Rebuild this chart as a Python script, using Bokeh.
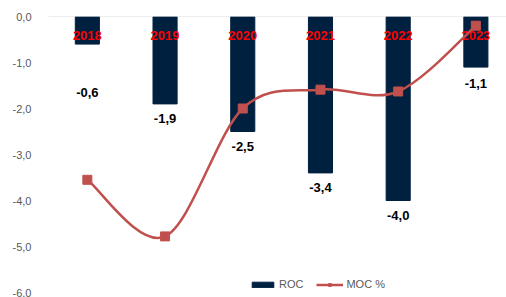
import numpy as np
from bokeh.plotting import figure
from bokeh.models import (ColumnDataSource, Range1d, FixedTicker, CustomJSTickFormatter,
                          Span, Legend, LegendItem)
from bokeh.embed import file_html
from bokeh.resources import INLINE
from bokeh.core.properties import value

# ---- data ----
years = ["2018", "2019", "2020", "2021", "2022", "2023"]
roc = [-0.6, -1.9, -2.5, -3.4, -4.0, -1.1]
moc = [-3.55, -4.78, -2.0, -1.59, -1.63, -0.2]
y_ticks = [0, -1, -2, -3, -4, -5, -6]

# ---- styling ----
BAR = "#002040"
LINE = "#C0504D"
FONT = "Liberation Sans"
label_offsets = [48, 15, 15, 15, 15, 16]  # px below bar end

xpos = list(range(len(years)))
roc_labels = [f"{v:.1f}".replace(".", ",") for v in roc]

p = figure(width=506, height=297, x_range=Range1d(-0.5, 5.394), y_range=Range1d(-6, 0),
           output_backend="svg", toolbar_location=None, x_axis_location=None,
           min_border_left=48, min_border_right=0, min_border_top=16, min_border_bottom=5)
p.outline_line_color = None
p.xgrid.visible = False
p.ygrid.visible = False
p.background_fill_color = "white"
p.border_fill_color = "white"

ax = p.yaxis[0]
ax.ticker = FixedTicker(ticks=y_ticks)
ax.formatter = CustomJSTickFormatter(code="return tick.toFixed(1).replace('.', ',');")
ax.axis_line_color = None
ax.major_tick_line_color = None
ax.minor_tick_line_color = None
ax.major_label_text_color = "#595959"
ax.major_label_text_font = FONT
ax.major_label_text_font_size = "11px"
ax.major_label_standoff = 11

p.add_layout(Span(location=0, dimension="width", line_color="#d9d9d9", line_width=1))

bar_src = ColumnDataSource(dict(x=xpos, top=roc, lab=roc_labels, off=label_offsets))
bars = p.vbar(x="x", top="top", bottom=0, width=0.31, source=bar_src,
              fill_color=BAR, line_color=BAR)

p.text(x=xpos, y=0, text=years, y_offset=19, text_align="center", text_baseline="middle",
       text_color="#FF0000", text_font=value(FONT), text_font_style="bold",
       text_font_size="13px")

p.text(x="x", y="top", text="lab", y_offset="off", source=bar_src, text_align="center",
       text_baseline="middle", text_color="#000000", text_font=value(FONT),
       text_font_style="bold", text_font_size="13px")

# smoothed line (Catmull-Rom -> cubic bezier control points)
xs = np.array(xpos, float)
ys = np.array(moc, float)
n = len(xs)
bz = dict(x0=[], y0=[], x1=[], y1=[], cx0=[], cy0=[], cx1=[], cy1=[])
for i in range(n - 1):
    ip = max(i - 1, 0)
    inx = min(i + 2, n - 1)
    bz["x0"].append(xs[i]); bz["y0"].append(ys[i])
    bz["x1"].append(xs[i + 1]); bz["y1"].append(ys[i + 1])
    bz["cx0"].append(xs[i] + (xs[i + 1] - xs[ip]) / 6)
    bz["cy0"].append(ys[i] + (ys[i + 1] - ys[ip]) / 6)
    bz["cx1"].append(xs[i + 1] - (xs[inx] - xs[i]) / 6)
    bz["cy1"].append(ys[i + 1] - (ys[inx] - ys[i]) / 6)
curve = p.bezier(source=ColumnDataSource(bz), x0="x0", y0="y0", x1="x1", y1="y1",
                 cx0="cx0", cy0="cy0", cx1="cx1", cy1="cy1",
                 line_color=LINE, line_width=2.5)
marks = p.scatter(x=xpos, y=moc, marker="square", size=9, fill_color=LINE, line_color=LINE)

legend = Legend(items=[LegendItem(label="ROC", renderers=[bars]),
                       LegendItem(label="MOC %", renderers=[curve, marks])],
                orientation="horizontal", location=(201, 2),
                padding=0, margin=0, spacing=13, glyph_width=27, glyph_height=7,
                label_height=10, label_standoff=3,
                label_text_font=FONT, label_text_font_size="11px",
                label_text_color="#595959",
                border_line_color=None, background_fill_alpha=0)
p.add_layout(legend, "center")

open("out.html", "w").write(file_html(p, INLINE))
